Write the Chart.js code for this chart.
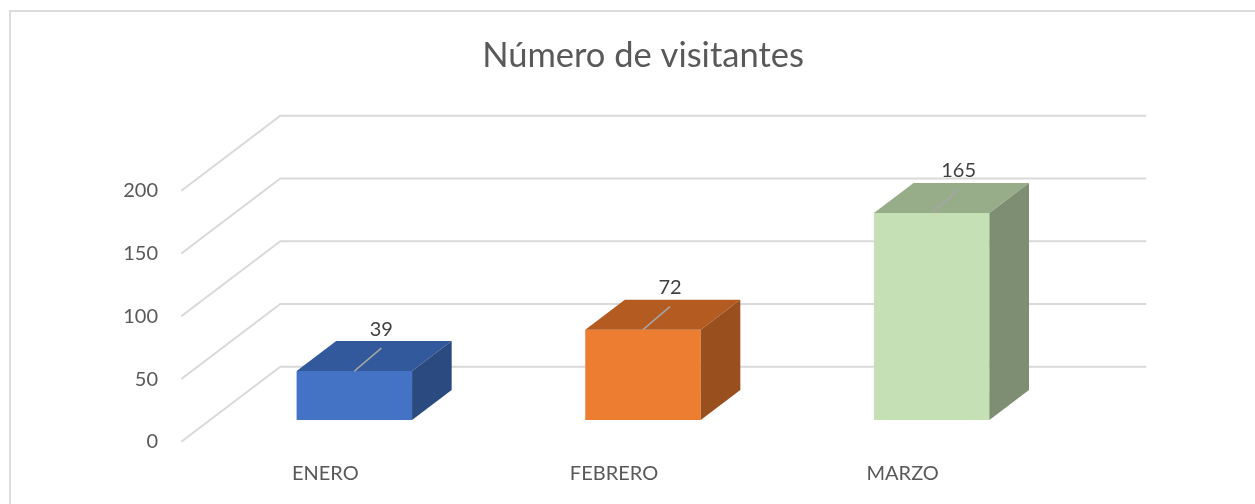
<!DOCTYPE html>
<html><head><meta charset="utf-8">
<script src="https://cdn.jsdelivr.net/npm/chart.js@4.4.1/dist/chart.umd.min.js"></script>
<style>
html,body{margin:0;padding:0;background:#fff;overflow:hidden;}
#wrap{position:relative;width:1255px;height:504px;overflow:hidden;}
#frame{position:absolute;left:9px;top:10px;width:1300px;height:560px;border-top:2px solid #dcdcdc;border-left:2px solid #dcdcdc;pointer-events:none;}
canvas{position:absolute;left:0;top:0;}
</style></head><body>
<div id="wrap"><canvas id="c" width="1255" height="504"></canvas><div id="frame"></div></div>
<script>
// ---- data ----
const categories = ['ENERO', 'FEBRERO', 'MARZO'];
const visitantes = [39, 72, 165];
const yTickValues = [0, 50, 100, 150, 200];
const chartTitle = 'Número de visitantes';

// ---- styles ----
const frontColors = ['#4472C4', '#ED7D31', '#C5E0B4'];
const topColors   = ['#32599B', '#B45B21', '#97AD8A'];
const sideColors  = ['#2A4A80', '#994F1E', '#7E8E72'];
const textColor = '#595959';
const depth = { dx: 99, dy: -75, front: 0.29, bar: 0.40 };
const labelShift = { dx: 27, dy: -42 };

const box3d = {
  id: 'box3d',
  beforeDatasetsDraw(chart) {
    const { ctx, chartArea: a, scales: { y } } = chart;
    const fx = -depth.front * depth.dx, fy = -depth.front * depth.dy;
    const bx = (1 - depth.front) * depth.dx, by = (1 - depth.front) * depth.dy;
    ctx.save();
    ctx.strokeStyle = '#d9d9d9';
    ctx.lineWidth = 2;
    y.ticks.forEach(t => {
      const py = y.getPixelForValue(t.value);
      ctx.beginPath();
      ctx.moveTo(a.left + fx, py + fy);
      ctx.lineTo(a.left + bx, py + by);
      ctx.lineTo(a.right + bx, py + by);
      ctx.stroke();
    });
    ctx.restore();
  },
  afterDatasetsDraw(chart) {
    const { ctx } = chart;
    const meta = chart.getDatasetMeta(0);
    const ex = depth.bar * depth.dx, ey = depth.bar * depth.dy;
    ctx.save();
    meta.data.forEach((bar, i) => {
      const { x, y, base, width } = bar.getProps(['x', 'y', 'base', 'width'], true);
      const l = x - width / 2, r = x + width / 2;
      ctx.fillStyle = topColors[i];
      ctx.beginPath();
      ctx.moveTo(l, y); ctx.lineTo(l + ex, y + ey); ctx.lineTo(r + ex, y + ey); ctx.lineTo(r, y);
      ctx.closePath(); ctx.fill();
      ctx.fillStyle = sideColors[i];
      ctx.beginPath();
      ctx.moveTo(r, y); ctx.lineTo(r + ex, y + ey); ctx.lineTo(r + ex, base + ey); ctx.lineTo(r, base);
      ctx.closePath(); ctx.fill();
      // leader line + value label
      const lx = x + labelShift.dx, ly = y + labelShift.dy;
      ctx.strokeStyle = '#a6a6a6';
      ctx.lineWidth = 1.5;
      ctx.beginPath();
      ctx.moveTo(x, y); ctx.lineTo(lx, ly + 19);
      ctx.stroke();
      ctx.fillStyle = '#404040';
      ctx.font = '20px Lato';
      ctx.textAlign = 'center';
      ctx.textBaseline = 'middle';
      ctx.fillText(String(chart.data.datasets[0].data[i]), lx, ly);
    });
    ctx.restore();
  }
};

new Chart(document.getElementById('c'), {
  type: 'bar',
  data: {
    labels: categories,
    datasets: [{
      data: visitantes,
      backgroundColor: frontColors,
      borderWidth: 0,
      barPercentage: 0.4,
      categoryPercentage: 1
    }]
  },
  options: {
    responsive: false,
    animation: false,
    devicePixelRatio: 1,
    layout: { padding: { top: 0, right: 179, bottom: 0, left: 0 } },
    plugins: {
      legend: { display: false },
      tooltip: { enabled: false },
      title: {
        display: true,
        text: chartTitle,
        fullSize: false,
        color: textColor,
        font: { family: 'Lato', size: 34.5, weight: 'normal' },
        padding: { top: 35, bottom: 92.6 }
      }
    },
    scales: {
      x: {
        grid: { display: false, drawTicks: false },
        border: { display: false },
        ticks: { padding: 42, labelOffset: -29, color: textColor, font: { family: 'Lato', size: 20 }, maxRotation: 0, autoSkip: false },
        afterFit(s) { s.height = 84; }
      },
      y: {
        min: 0, max: 200,
        afterBuildTicks(s) { s.ticks = yTickValues.map(v => ({ value: v })); },
        grid: { display: false, drawTicks: false },
        border: { display: false },
        ticks: { padding: 52, labelOffset: 22, color: textColor, font: { family: 'Lato', size: 20 } },
        afterFit(s) { s.width = 210; }
      }
    }
  },
  plugins: [box3d]
});
</script>
</body></html>
